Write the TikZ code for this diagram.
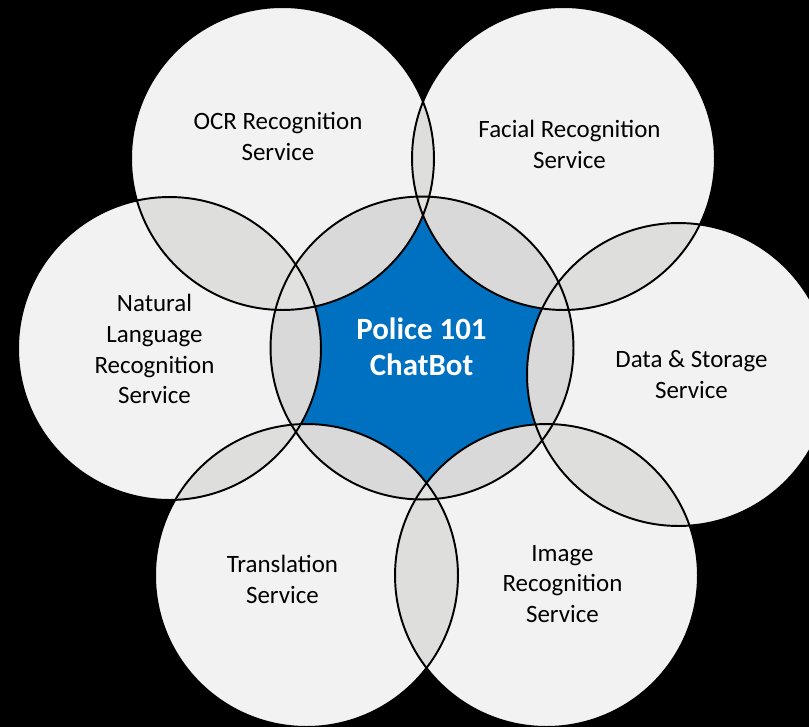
\documentclass[tikz,border=0pt]{standalone}
\usepackage{fontspec}
\setmainfont{Carlito}
\definecolor{disc}{HTML}{F2F2F2}
\definecolor{lensC}{HTML}{D9D9D9}
\definecolor{lensO}{HTML}{DEDEDD}
\definecolor{triple}{HTML}{E1E1E0}
\definecolor{core}{HTML}{0070C0}
\begin{document}
\begin{tikzpicture}[x=0.02cm,y=-0.02cm,
  ring/.style={draw=black,line width=1.1pt},
  svc/.style={font=\fontsize{14.2}{17.6}\selectfont,text=black,align=center,inner sep=0pt},
  hub/.style={font=\bfseries\fontsize{17.6}{20.5}\selectfont,text=white,align=center,inner sep=0pt}]
\def\R{3.03cm}
% page and background
\fill[black] (0,0) rectangle (809,727);
\useasboundingbox (0,0) rectangle (809,727);
% circle centres
\coordinate (C) at (422,348);
\coordinate (O) at (282.5,158.5);
\coordinate (F) at (563.5,158.5);
\coordinate (D) at (678.5,374.5);
\coordinate (I) at (546.5,575.5);
\coordinate (T) at (306.5,575.5);
\coordinate (N) at (169.5,348.5);
% plain discs
\foreach \p in {C,O,F,D,I,T,N} \fill[disc] (\p) circle[radius=\R];
% centre disc
\fill[core] (C) circle[radius=\R];
% overlaps of neighbouring outer discs
\foreach \a/\b in {O/F,F/D,D/I,I/T,T/N,N/O} {
  \begin{scope}
    \clip (\a) circle[radius=\R];
    \fill[lensO] (\b) circle[radius=\R];
  \end{scope}
}
% overlaps with the centre disc
\begin{scope}
  \clip (C) circle[radius=\R];
  \foreach \p in {O,F,D,I,T,N} \fill[lensC] (\p) circle[radius=\R];
  \foreach \a/\b in {O/F,F/D,D/I,I/T,T/N,N/O} {
    \begin{scope}
      \clip (\a) circle[radius=\R];
      \fill[triple] (\b) circle[radius=\R];
    \end{scope}
  }
\end{scope}
% outlines
\foreach \p in {C,O,F,D,I,T,N} \draw[ring] (\p) circle[radius=\R];
% labels
\node[hub] (hubtext) at (421.5,347) {Police 101\\ChatBot};
\node[svc] (ocr) at (278,136) {OCR Recognition\\Service};
\node[svc] (facial) at (569.5,144.5) {Facial Recognition\\Service};
\node[svc] (data) at (691.5,375) {Data \& Storage\\Service};
\node[svc] (image) at (562.5,584) {Image\\Recognition\\Service};
\node[svc] (transl) at (282.5,579) {Translation\\Service};
\node[svc] (nlp) at (154.5,349) {Natural\\Language\\Recognition\\Service};
\end{tikzpicture}
\end{document}
